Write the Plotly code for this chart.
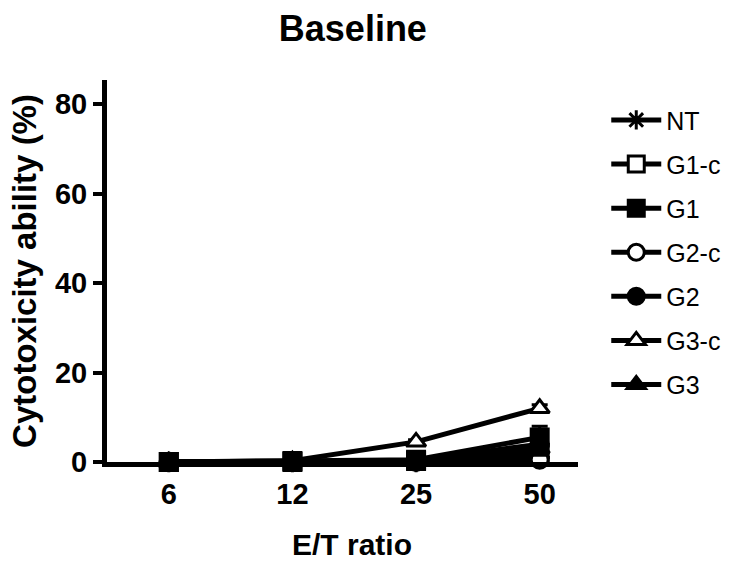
import plotly.graph_objects as go

ratios = ["6", "12", "25", "50"]
names = ["NT", "G1-c", "G1", "G2-c", "G2", "G3-c", "G3"]
symbols = ["asterisk-open", "square", "square", "circle", "circle", "triangle-up", "triangle-up"]
fills = ["black", "white", "black", "white", "black", "white", "black"]
nt = [0.0, 0.0, 0.0, 1.0]
g1c = [0.0, 0.0, 0.2, 2.0]
g1 = [0.0, 0.2, 0.5, 5.5]
g2c = [0.0, 0.0, 0.0, 0.5]
g2 = [0.0, 0.1, 0.3, 4.0]
g3c = [0.0, 0.3, 4.5, 12.0]
g3 = [0.0, 0.1, 0.2, 3.0]
err_nt = [0, 0, 0, 1.5]
err_g1c = [0, 0, 0, 1.5]
err_g1 = [0, 0, 0.3, 2.5]
err_g2c = [0, 0, 0, 1.0]
err_g2 = [0, 0, 0.3, 2.0]
err_g3c = [0, 0, 0.5, 0.8]
err_g3 = [0, 0, 0.2, 1.5]

series = [nt, g1c, g1, g2c, g2, g3c, g3]
errs = [err_nt, err_g1c, err_g1, err_g2c, err_g2, err_g3c, err_g3]

fig = go.Figure()
for nm, sym, fc, ys, er in zip(names, symbols, fills, series, errs):
    fig.add_trace(go.Scatter(
        x=ratios, y=ys, name=nm, mode="lines+markers",
        line=dict(color="black", width=5),
        marker=dict(symbol=sym, size=17, color=fc, line=dict(color="black", width=3)),
        error_y=dict(type="data", array=er, visible=True, color="black", thickness=3, width=8),
        cliponaxis=False, legendgroup=nm,
    ))

FONT = "Liberation Sans, Arial"
fig.update_layout(
    width=734, height=561,
    margin=dict(l=107, r=156, t=80, b=99, autoexpand=False),
    paper_bgcolor="white", plot_bgcolor="white",
    font=dict(family=FONT, color="black"),
    title=dict(text="Baseline", x=0.522, xanchor="center", xref="paper", y=0.95, yanchor="middle",
               font=dict(size=36, color="black", family=FONT, weight="bold")),
    showlegend=True,
    legend=dict(x=1.06, y=0.955, xanchor="left", yanchor="top", tracegroupgap=8.6, itemwidth=50,
                font=dict(size=25, color="black", family=FONT), bgcolor="rgba(0,0,0,0)"),
    xaxis=dict(type="category", range=[-0.5, 3.31], showline=True, linecolor="black", linewidth=5,
               ticks="outside", ticklen=2, tickcolor="rgba(0,0,0,0)", automargin=False,
               showgrid=False, zeroline=False,
               tickfont=dict(size=29, color="black", family=FONT, weight="bold")),
    yaxis=dict(range=[0, 85.4], showline=True, linecolor="black", linewidth=5, automargin=False,
               ticks="outside", ticklen=9, tickwidth=4, tickcolor="black",
               tickvals=[0, 20, 40, 60, 80], showgrid=False, zeroline=False,
               tickfont=dict(size=29, color="black", family=FONT, weight="bold"),
               title=dict(text="Cytotoxicity ability (%)", font=dict(size=33, color="black", family=FONT, weight="bold"), standoff=10)),
    annotations=[dict(text="E/T ratio", xref="paper", yref="paper", x=0.52, y=-0.217,
                      xanchor="center", yanchor="middle", showarrow=False,
                      font=dict(size=30, color="black", family=FONT, weight="bold"))],
)

fig.write_html("out.html")
